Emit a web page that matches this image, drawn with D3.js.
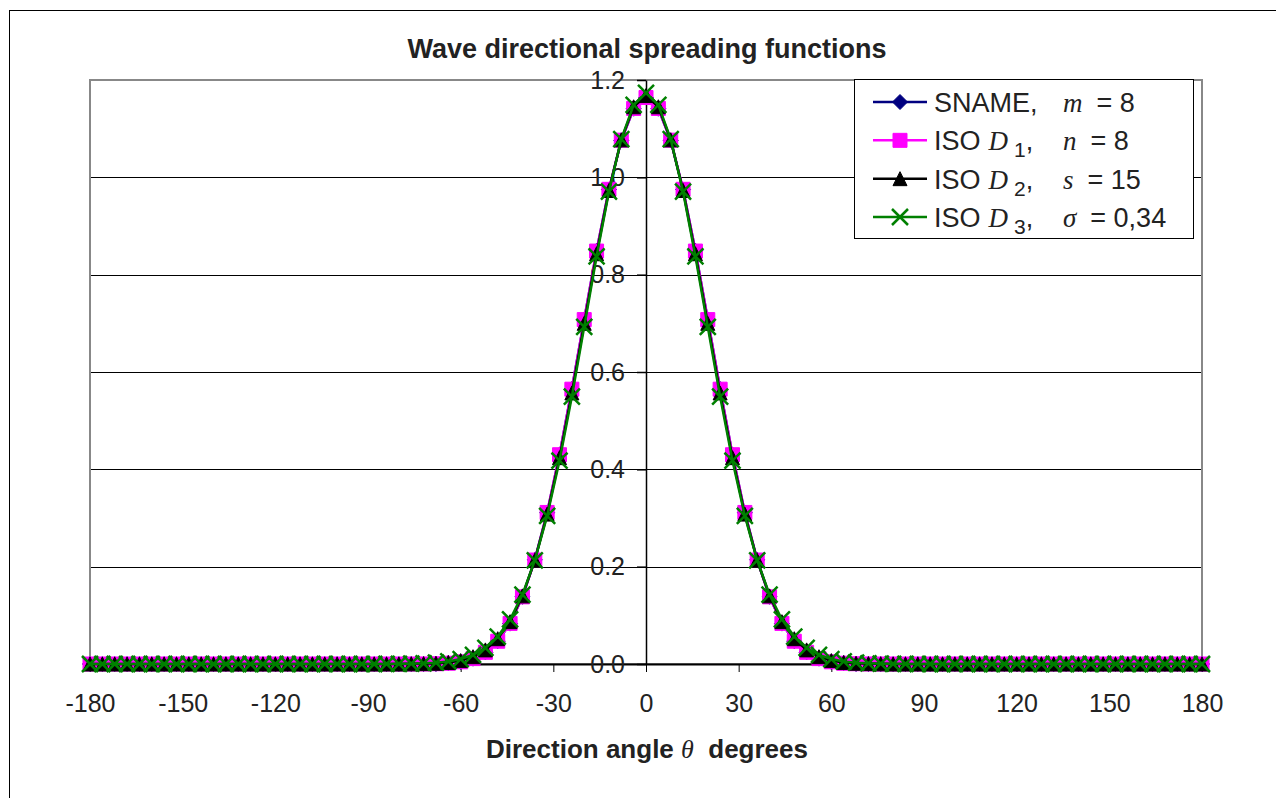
<!DOCTYPE html>
<html>
<head>
<meta charset="utf-8">
<script src="https://cdn.jsdelivr.net/npm/d3@7"></script>
<style>
  body { margin: 0; background: #fff; }
  svg { display: block; font-family: Arial, "Liberation Sans", sans-serif; }
</style>
</head>
<body>
<svg id="chart" width="1276" height="798"></svg>
<script>
// DATA
// direction angle, degrees (every 4 deg)
const angles = [
  -180, -176, -172, -168, -164, -160, -156, -152, -148, -144, -140, -136, -132, -128, -124, -120,
  -116, -112, -108, -104, -100, -96, -92, -88, -84, -80, -76, -72, -68, -64, -60, -56,
  -52, -48, -44, -40, -36, -32, -28, -24, -20, -16, -12, -8, -4, 0,
  4, 8, 12, 16, 20, 24, 28, 32, 36, 40, 44, 48, 52, 56, 60, 64,
  68, 72, 76, 80, 84, 88, 92, 96, 100, 104, 108, 112, 116, 120, 124, 128,
  132, 136, 140, 144, 148, 152, 156, 160, 164, 168, 172, 176, 180
];

const snameM8 = [
  0, 0, 0, 0, 0, 0, 0, 0, 0, 0, 0, 0, 0, 0, 0, 0,
  0, 0, 0, 0, 0, 0, 0, 0, 0, 0, 0, 0.000, 0.000, 0.002, 0.004, 0.011,
  0.024, 0.047, 0.083, 0.138, 0.214, 0.311, 0.430, 0.565, 0.708, 0.849, 0.975, 1.076, 1.141, 1.164,
  1.141, 1.076, 0.975, 0.849, 0.708, 0.565, 0.430, 0.311, 0.214, 0.138, 0.083, 0.047, 0.024, 0.011, 0.004, 0.002,
  0.000, 0.000, 0, 0, 0, 0, 0, 0, 0, 0, 0, 0, 0, 0, 0, 0,
  0, 0, 0, 0, 0, 0, 0, 0, 0, 0, 0, 0, 0
];

const isoD1 = [
  0, 0, 0, 0, 0, 0, 0, 0, 0, 0, 0, 0, 0, 0, 0, 0,
  0, 0, 0, 0, 0, 0, 0, 0, 0, 0, 0, 0.0001, 0.0005, 0.0016, 0.0045, 0.0111,
  0.0240, 0.0468, 0.0834, 0.1380, 0.2136, 0.3114, 0.4300, 0.5647, 0.7077, 0.8485, 0.9754, 1.0764, 1.1415, 1.1640,
  1.1415, 1.0764, 0.9754, 0.8485, 0.7077, 0.5647, 0.4300, 0.3114, 0.2136, 0.1380, 0.0834, 0.0468, 0.0240, 0.0111, 0.0045, 0.0016,
  0.0005, 0.0001, 0, 0, 0, 0, 0, 0, 0, 0, 0, 0, 0, 0, 0, 0,
  0, 0, 0, 0, 0, 0, 0, 0, 0, 0, 0, 0, 0
];

const isoD2 = [
  0, 0, 0, 0, 0, 0, 0, 0, 0, 0, 0, 0, 0, 0, 0, 0,
  0, 0, 0, 0, 0, 0, 0, 0, 0, 0, 0.0003, 0.0007, 0.0015, 0.003, 0.007, 0.015,
  0.029, 0.052, 0.087, 0.140, 0.213, 0.308, 0.424, 0.557, 0.700, 0.843, 0.973, 1.077, 1.145, 1.168,
  1.145, 1.077, 0.973, 0.843, 0.700, 0.557, 0.424, 0.308, 0.213, 0.140, 0.087, 0.052, 0.029, 0.015, 0.007, 0.003,
  0.0015, 0.0007, 0.0003, 0, 0, 0, 0, 0, 0, 0, 0, 0, 0, 0, 0, 0,
  0, 0, 0, 0, 0, 0, 0, 0, 0, 0, 0, 0, 0
];

const isoD3 = [
  0, 0, 0, 0, 0, 0, 0, 0, 0, 0, 0, 0, 0, 0, 0, 0,
  0, 0, 0, 0, 0, 0, 0, 0, 0.0001, 0.0003, 0.0006, 0.0013, 0.0027, 0.0053, 0.0102, 0.0188,
  0.0333, 0.0564, 0.0915, 0.1425, 0.2128, 0.3044, 0.4177, 0.5494, 0.6927, 0.8375, 0.9706, 1.0785, 1.1489, 1.1734,
  1.1489, 1.0785, 0.9706, 0.8375, 0.6927, 0.5494, 0.4177, 0.3044, 0.2128, 0.1425, 0.0915, 0.0564, 0.0333, 0.0188, 0.0102, 0.0053,
  0.0027, 0.0013, 0.0006, 0.0003, 0.0001, 0, 0, 0, 0, 0, 0, 0, 0, 0, 0, 0,
  0, 0, 0, 0, 0, 0, 0, 0, 0, 0, 0, 0, 0
];

const xTicks = [-180, -150, -120, -90, -60, -30, 0, 30, 60, 90, 120, 150, 180];
const yTicks = [0, 0.2, 0.4, 0.6, 0.8, 1.0, 1.2];

// legend rows: label, subscript, variable, value
const seriesNames = ['SNAME,', 'ISO', 'ISO', 'ISO'];
const seriesSubs = [null, '1', '2', '3'];
const seriesVars = ['m', 'n', 's', '\u03C3'];
const seriesParams = ['= 8', '= 8', '= 15', '= 0,34'];
const seriesColors = ['#000080', '#ff00ff', '#000000', '#008000'];
const seriesMarkers = ['diamond', 'square', 'triangle', 'x'];
const seriesValues = [snameM8, isoD1, isoD2, isoD3];

// LAYOUT
const svg = d3.select('#chart');
const plotLeft = 90, plotRight = 1202, plotTop = 80, plotBottom = 664;
const xAxisY = 664; // y = 0
const x = d3.scaleLinear().domain([-180, 180]).range([plotLeft, plotRight]);
const y = d3.scaleLinear().domain([0, 1.2]).range([plotBottom, plotTop]);
const textColor = '#222';

// outer chart border (runs off the page on right/bottom)
svg.append('rect')
  .attr('x', 9.5).attr('y', 10.5)
  .attr('width', 1400).attr('height', 900)
  .attr('fill', 'none').attr('stroke', '#000').attr('stroke-width', 1);

// title
svg.append('text')
  .attr('x', 647).attr('y', 58)
  .attr('text-anchor', 'middle')
  .attr('font-size', '27px').attr('font-weight', 'bold').attr('fill', textColor)
  .text('Wave directional spreading functions');

// gridlines
svg.append('g').attr('class', 'grid')
  .selectAll('line')
  .data(yTicks.filter(d => d > 0 && d < 1.2))
  .enter().append('line')
    .attr('x1', plotLeft).attr('x2', plotRight)
    .attr('y1', d => Math.round(y(d)) + 0.5).attr('y2', d => Math.round(y(d)) + 0.5)
    .attr('stroke', '#000').attr('stroke-width', 1);

// plot frame
svg.append('rect')
  .attr('x', plotLeft).attr('y', plotTop)
  .attr('width', plotRight - plotLeft).attr('height', plotBottom - plotTop)
  .attr('fill', 'none').attr('stroke', '#888').attr('stroke-width', 2);

// x axis at y = 0 (plain hyphen minus like the original)
const xAxis = svg.append('g')
  .attr('transform', 'translate(0,' + xAxisY + ')')
  .call(d3.axisBottom(x).tickValues(xTicks).tickSize(8).tickPadding(22).tickSizeOuter(0).tickFormat(d => String(d)));
xAxis.select('.domain').attr('stroke', '#000').attr('stroke-width', 2);
xAxis.selectAll('.tick line').attr('stroke', '#000');
xAxis.selectAll('.tick text')
  .attr('font-size', '25px').attr('font-family', 'Arial, "Liberation Sans", sans-serif').attr('fill', textColor);

// y axis at x = 0
const yAxis = svg.append('g')
  .attr('transform', 'translate(' + x(0) + ',0)')
  .call(d3.axisLeft(y).tickValues(yTicks).tickSize(9).tickPadding(12).tickSizeOuter(0).tickFormat(d3.format('.1f')));
yAxis.select('.domain').attr('stroke', '#000').attr('stroke-width', 1.5);
yAxis.selectAll('.tick line').attr('stroke', '#000').attr('stroke-width', 1.5);
yAxis.selectAll('.tick text')
  .attr('font-size', '25px').attr('font-family', 'Arial, "Liberation Sans", sans-serif').attr('fill', textColor);

// x axis title
const xTitle = svg.append('text')
  .attr('x', 647).attr('y', 758)
  .attr('text-anchor', 'middle')
  .attr('font-size', '26px').attr('font-weight', 'bold').attr('fill', textColor);
xTitle.append('tspan').text('Direction angle ');
xTitle.append('tspan')
  .attr('font-family', '"Liberation Serif", "Times New Roman", serif')
  .attr('font-style', 'italic').attr('font-weight', 'normal')
  .text('\u03B8');
xTitle.append('tspan').text('\u00A0 degrees');

// marker shapes
function markerPath(type, s){
  const h = s / 2;
  if(type == 'diamond') return 'M0,' + (-h) + 'L' + h + ',0L0,' + h + 'L' + (-h) + ',0Z';
  if(type == 'square') return 'M' + (-h) + ',' + (-h) + 'H' + h + 'V' + h + 'H' + (-h) + 'Z';
  if(type == 'triangle') return 'M0,' + (-h) + 'L' + h + ',' + h + 'L' + (-h) + ',' + h + 'Z';
  return 'M' + (-h) + ',' + (-h) + 'L' + h + ',' + h + 'M' + h + ',' + (-h) + 'L' + (-h) + ',' + h;
}
const markerSizes = { diamond: 15, square: 14, triangle: 14, x: 16 };

function drawMarker(sel, type, color){
  sel.attr('d', markerPath(type, markerSizes[type]));
  if(type == 'x'){
    sel.attr('fill', 'none').attr('stroke', color).attr('stroke-width', 2.5);
  } else {
    sel.attr('fill', color).attr('stroke', color).attr('stroke-width', 1);
  }
}

// series
const line = d3.line()
  .x((d, i) => x(angles[i]))
  .y(d => y(d));

seriesValues.forEach(function(values, k){
  const g = svg.append('g').attr('class', 'series');
  g.append('path')
    .datum(values)
    .attr('d', line)
    .attr('fill', 'none')
    .attr('stroke', seriesColors[k])
    .attr('stroke-width', 2.5);

  g.selectAll('path.marker')
    .data(values)
    .enter().append('path')
      .attr('class', 'marker')
      .attr('transform', (d, i) => 'translate(' + x(angles[i]) + ',' + y(d) + ')')
      .call(drawMarker, seriesMarkers[k], seriesColors[k]);
});

// legend
const legendLeft = 854, legendTop = 79, legendRight = 1193, legendBottom = 238;
const legend = svg.append('g').attr('class', 'legend');
legend.append('rect')
  .attr('x', legendLeft + 0.5).attr('y', legendTop + 0.5)
  .attr('width', legendRight - legendLeft).attr('height', legendBottom - legendTop)
  .attr('fill', '#fff').attr('stroke', '#000').attr('stroke-width', 1);

const rowY = d3.scaleLinear().domain([0, 3]).range([102, 217]);
seriesNames.forEach(function(name, k){
  const cy = rowY(k);
  legend.append('line')
    .attr('x1', 873).attr('x2', 927)
    .attr('y1', cy).attr('y2', cy)
    .attr('stroke', seriesColors[k]).attr('stroke-width', 2.5);
  legend.append('path')
    .attr('transform', 'translate(900,' + cy + ')')
    .call(drawMarker, seriesMarkers[k], seriesColors[k]);

  const t = legend.append('text')
    .attr('x', 934).attr('y', cy + 10)
    .attr('font-size', '27px').attr('fill', textColor);
  t.append('tspan').text(name);
  if(seriesSubs[k]){
    t.append('tspan').attr('dx', 8)
      .attr('font-family', '"Liberation Serif", "Times New Roman", serif')
      .attr('font-style', 'italic').text('D');
    t.append('tspan').attr('dx', 6).attr('dy', 7).attr('font-size', '21px').text(seriesSubs[k]);
    t.append('tspan').attr('dy', -7).text(',');
  }

  const v = legend.append('text')
    .attr('x', 1063).attr('y', cy + 10)
    .attr('font-size', '27px').attr('fill', textColor);
  v.append('tspan')
    .attr('font-family', '"Liberation Serif", "Times New Roman", serif')
    .attr('font-style', 'italic').text(seriesVars[k]);
  v.append('tspan').attr('dx', 14).text(seriesParams[k]);
});
</script>
</body>
</html>
